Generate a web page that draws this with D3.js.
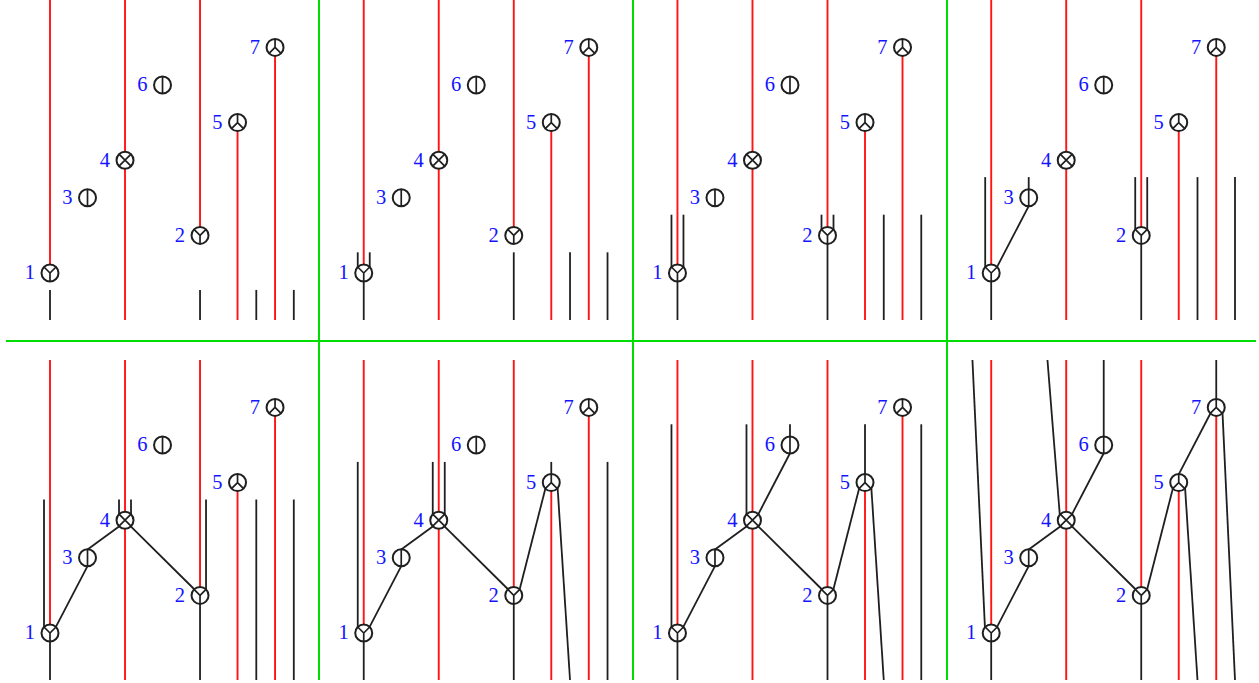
<!DOCTYPE html>
<html>
<head>
<meta charset="utf-8">
<style>
  html, body { margin: 0; padding: 0; background: #fff; }
  svg { display: block; }
</style>
<script src="https://cdn.jsdelivr.net/npm/d3@7"></script>
</head>
<body>
<svg id="chart" width="1259" height="683"></svg>
<script>
// node labels, their column and height on the diagram grid
const nodeLabels = ["1", "2", "3", "4", "5", "6", "7"];
const nodeCols   = [0, 4, 1, 2, 5, 3, 6];
const nodeLevels = [1.25, 2.25, 3.25, 4.25, 5.25, 6.25, 7.25];
const nodeGlyphs = ["y", "y", "bar", "x", "m", "bar", "m"];

const TOP = 8.51;

// red lines: column, from level, to level
const redLines = [
  [0, 1.25, TOP],
  [2, 0, TOP],
  [4, 2.25, TOP],
  [5, 0, 5.25],
  [6, 0, 7.25]
];

// black lines per panel: col1, level1, col2, level2
const panel1 = [[0,0,0,.8],[4,0,4,.8],[5.5,0,5.5,.8],[6.5,0,6.5,.8]];
const panel2 = [[0,0,0,1.25],[-.16,1.25,-.16,1.8],[.16,1.25,.16,1.8],[4,0,4,1.8],[5.5,0,5.5,1.8],[6.5,0,6.5,1.8]];
const panel3 = [[0,0,0,1.25],[-.16,1.25,-.16,2.8],[.16,1.25,.16,2.8],[4,0,4,2.25],[3.84,2.25,3.84,2.8],[4.16,2.25,4.16,2.8],[5.5,0,5.5,2.8],[6.5,0,6.5,2.8]];
const panel4 = [[0,0,0,1.25],[-.16,1.25,-.16,3.8],[.16,1.42,1,3.03],[1,3.25,1,3.8],[4,0,4,2.25],[3.84,2.25,3.84,3.8],[4.16,2.25,4.16,3.8],[5.5,0,5.5,3.8],[6.5,0,6.5,3.8]];
const panel5 = [[0,0,0,1.25],[-.16,1.25,-.16,4.8],[.16,1.42,1,3.03],[1,3.47,1.84,4.08],[1.84,4.25,1.84,4.8],[2.16,4.25,2.16,4.8],[2.16,4.08,3.84,2.42],[4,0,4,2.25],[4.16,2.25,4.16,4.8],[5.5,0,5.5,4.8],[6.5,0,6.5,4.8]];
const panel6 = [[0,0,0,1.25],[-.16,1.25,-.16,5.8],[.16,1.42,1,3.03],[1,3.47,1.84,4.08],[1.84,4.25,1.84,5.8],[2.16,4.25,2.16,5.8],[2.16,4.08,3.84,2.42],[4,0,4,2.25],[4.16,2.42,4.84,5.08],[5,5.25,5,5.8],[5.16,5.25,5.5,0],[6.5,0,6.5,5.8]];
const panel7 = [[0,0,0,1.25],[-.16,1.25,-.16,6.8],[.16,1.42,1,3.03],[1,3.47,1.84,4.08],[1.84,4.25,1.84,6.8],[2.16,4.42,3,6.03],[3,6.25,3,6.8],[2.16,4.08,3.84,2.42],[4,0,4,2.25],[4.16,2.42,4.84,5.08],[5,5.25,5,6.8],[5.16,5.25,5.5,0],[6.5,0,6.5,6.8]];
const panel8 = [[0,0,0,1.25],[-.16,1.25,-.5,TOP],[.16,1.42,1,3.03],[1,3.47,1.84,4.08],[1.84,4.25,1.5,TOP],[2.16,4.42,3,6.03],[3,6.25,3,TOP],[2.16,4.08,3.84,2.42],[4,0,4,2.25],[4.16,2.42,4.84,5.08],[5,5.47,5.84,7.08],[5.16,5.25,5.5,0],[6,7.25,6,TOP],[6.16,7.25,6.5,0]];
const panels = [panel1, panel2, panel3, panel4, panel5, panel6, panel7, panel8];

const x = d3.scaleLinear().domain([0, 6.5]).range([50, 293.8]);
const y = d3.scaleLinear().domain([0, TOP]).range([320, 0]);
const panelX = d3.scaleLinear().domain([0, 3]).range([0, 941.2]);
const panelY = d3.scaleLinear().domain([0, 1]).range([0, 360]);

const svg = d3.select("#chart");
const R = 8.5;

// glyph inside a node circle
function glyphPath(type){
  const p = d3.path();
  const d = R * Math.SQRT1_2;
  const spokes = {
    y:   [[0, R], [-d, -d], [d, -d]],
    m:   [[0, -R], [-d, d], [d, d]],
    x:   [[-d, -d], [d, d], [-d, d], [d, -d]],
    bar: [[0, -R], [0, R]]
  };
  spokes[type].forEach(s => { p.moveTo(0, 0); p.lineTo(s[0], s[1]); });
  return p.toString();
}

panels.forEach((segs, i) => {
  const g = svg.append("g")
    .attr("transform", `translate(${panelX(i % 4)},${panelY(Math.floor(i / 4))})`);

  g.selectAll("line.red").data(redLines).join("line")
    .attr("class", "red")
    .attr("x1", d => x(d[0])).attr("x2", d => x(d[0]))
    .attr("y1", d => y(d[1])).attr("y2", d => y(d[2]))
    .attr("stroke", "#ff1414").attr("stroke-width", 1.9);

  g.selectAll("line.black").data(segs).join("line")
    .attr("class", "black")
    .attr("x1", d => x(d[0])).attr("y1", d => y(d[1]))
    .attr("x2", d => x(d[2])).attr("y2", d => y(d[3]))
    .attr("stroke", "#1f1f1f").attr("stroke-width", 1.8);

  const node = g.selectAll("g.node").data(nodeLabels).join("g")
    .attr("class", "node")
    .attr("transform", (d, k) => `translate(${x(nodeCols[k])},${y(nodeLevels[k])})`);

  node.append("circle").attr("r", R)
    .attr("fill", "#fff").attr("stroke", "#1f1f1f").attr("stroke-width", 2);
  node.append("path").attr("d", (d, k) => glyphPath(nodeGlyphs[k]))
    .attr("fill", "none").attr("stroke", "#1f1f1f").attr("stroke-width", 1.7);
  node.append("text").text(d => d)
    .attr("x", -15).attr("y", 6.5)
    .attr("text-anchor", "end")
    .attr("font-family", "'Liberation Serif', serif")
    .attr("font-size", 20.5)
    .attr("fill", "#1414ff");
});

// green separators
[319, 633, 947].forEach(gx => {
  svg.append("line").attr("x1", gx).attr("x2", gx).attr("y1", 0).attr("y2", 680)
    .attr("stroke", "#00dd00").attr("stroke-width", 2);
});
svg.append("line").attr("x1", 6).attr("x2", 1256).attr("y1", 341).attr("y2", 341)
  .attr("stroke", "#00dd00").attr("stroke-width", 2);
</script>
</body>
</html>
